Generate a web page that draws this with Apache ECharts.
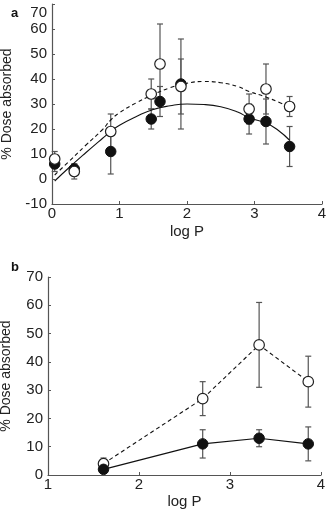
<!DOCTYPE html>
<html>
<head>
<meta charset="utf-8">
<script src="https://cdn.jsdelivr.net/npm/echarts@6/dist/echarts.min.js"></script>
<style>
html,body{margin:0;padding:0;background:#fff;}
#c{width:327px;height:517px;}
</style>
</head>
<body>
<div id="c"></div>
<script>
// Panel a
var xA = [0.04, 0.33, 0.87, 1.47, 1.60, 1.91, 2.92, 3.17, 3.52];
var openA = [8, 3, 19, 34, 46, 37, 28, 36, 29];
var openErrA = [3, 3, 7, 6, 16, 11, 6, 10, 4];
var filledA = [6, 4, 11, 24, 31, 38, 24, 23, 13];
var filledErrA = [3, 2, 9, 4, 6, 18, 6, 9, 8];
// fitted curves
var fitX = [0.04, 0.25, 0.5, 0.75, 0.87, 1.0, 1.25, 1.5, 1.75, 2.0, 2.25, 2.5, 2.75, 2.92, 3.17, 3.35, 3.52];
var dashedFit = [1.6, 7, 13.5, 19.8, 23.6, 26.5, 30.5, 33.8, 36.5, 38.3, 39, 38.5, 37, 35, 32.8, 30.8, 28.8];
var solidFit = [-0.8, 4.5, 10.5, 16.3, 19, 21.5, 25, 27.8, 29.3, 30, 29.8, 28.9, 26.8, 24.5, 22.4, 19.5, 15.5];
// Panel b
var xB = [1.61, 2.70, 3.32, 3.86];
var openB = [4, 27, 46, 33];
var openErrB = [2, 6, 15, 9];
var filledB = [2, 11, 13, 11];
var filledErrB = [1, 5, 3, 6];

var yTicksA = [-10, 70, 10];
var yTicksB = [0, 70, 10];

function pairs(xs, ys) { return xs.map(function (x, i) { return [x, ys[i]]; }); }
function errData(xs, ys, es) { return xs.map(function (x, i) { return [x, ys[i] - es[i], ys[i] + es[i]]; }); }

function errSeries(xi, yi, data) {
  return {
    type: 'custom', xAxisIndex: xi, yAxisIndex: yi, z: 1, silent: true,
    data: data,
    renderItem: function (params, api) {
      var x = api.value(0);
      var lo = api.coord([x, api.value(1)]);
      var hi = api.coord([x, api.value(2)]);
      var w = 3;
      var st = { stroke: '#555', lineWidth: 1.2 };
      return {
        type: 'group', children: [
          { type: 'line', shape: { x1: lo[0], y1: lo[1], x2: hi[0], y2: hi[1] }, style: st },
          { type: 'line', shape: { x1: lo[0] - w, y1: lo[1], x2: lo[0] + w, y2: lo[1] }, style: st },
          { type: 'line', shape: { x1: hi[0] - w, y1: hi[1], x2: hi[0] + w, y2: hi[1] }, style: st }
        ]
      };
    }
  };
}

function scatter(xi, yi, data, filled, z) {
  return {
    type: 'scatter', xAxisIndex: xi, yAxisIndex: yi, z: z, silent: true,
    symbol: 'circle', symbolSize: 10.5,
    itemStyle: filled ? { color: '#111', borderColor: '#111', borderWidth: 1, opacity: 1 } : { color: '#fff', borderColor: '#222', borderWidth: 1.2, opacity: 1 },
    data: data
  };
}

function lineSeries(xi, yi, data, dashed, smooth) {
  return {
    type: 'line', xAxisIndex: xi, yAxisIndex: yi, z: 2, silent: true,
    showSymbol: false, symbol: 'none', smooth: smooth,
    lineStyle: { color: '#111', width: 1.1, type: dashed ? [4, 3] : 'solid' },
    data: data
  };
}

var FONT = 'Liberation Sans, Arial, sans-serif';
var axisCommon = {
  splitLine: { show: false },
  axisLine: { show: true, onZero: false, lineStyle: { color: '#555', width: 1.2 } },
  axisTick: { show: true, inside: true, length: 3, lineStyle: { color: '#555' } },
  axisLabel: { color: '#222', fontSize: 15, fontFamily: FONT },
  nameTextStyle: { color: '#222', fontSize: 15, fontFamily: FONT }
};
function ax(extra) { return Object.assign({}, JSON.parse(JSON.stringify(axisCommon)), extra); }

var option = {
  animation: false,
  backgroundColor: '#fff',
  title: [
    { text: 'a', left: 6, top: 2, textStyle: { fontSize: 13, fontWeight: 'bold', color: '#111', fontFamily: FONT } },
    { text: 'b', left: 6, top: 256, textStyle: { fontSize: 13, fontWeight: 'bold', color: '#111', fontFamily: FONT } }
  ],
  grid: [
    { left: 52, right: 5, top: 4, bottom: 313, containLabel: false, outerBoundsMode: 'none' },
    { left: 48, right: 6, top: 277, bottom: 42, containLabel: false, outerBoundsMode: 'none' }
  ],
  xAxis: [
    ax({ gridIndex: 0, type: 'value', min: 0, max: 4, interval: 1, name: 'log P', nameLocation: 'middle', nameGap: 20, axisLabel: Object.assign({}, axisCommon.axisLabel, { margin: 2 }) }),
    ax({ gridIndex: 1, type: 'value', min: 1, max: 4, interval: 1, name: 'log P', nameLocation: 'middle', nameGap: 19, axisLabel: Object.assign({}, axisCommon.axisLabel, { margin: 2 }) })
  ],
  yAxis: [
    ax({ gridIndex: 0, type: 'value', min: yTicksA[0], max: yTicksA[1], interval: yTicksA[2], name: '% Dose absorbed', nameLocation: 'middle', nameGap: 37, nameTextStyle: { color: '#222', fontSize: 14, fontFamily: FONT },
      axisLabel: Object.assign({}, axisCommon.axisLabel, {
        margin: 5,
        formatter: function (v) { return v === yTicksA[1] ? '{top|' + v + '}' : String(v); },
        rich: { top: { fontSize: 15, fontFamily: FONT, color: '#222', padding: [18, 0, 0, 0] } }
      }) }),
    ax({ gridIndex: 1, type: 'value', min: yTicksB[0], max: yTicksB[1], interval: yTicksB[2], name: '% Dose absorbed', nameLocation: 'middle', nameGap: 35, nameTextStyle: { color: '#222', fontSize: 14, fontFamily: FONT }, axisLabel: Object.assign({}, axisCommon.axisLabel, { margin: 5 }) })
  ],
  series: [
    lineSeries(0, 0, pairs(fitX, dashedFit), true, true),
    lineSeries(0, 0, pairs(fitX, solidFit), false, true),
    errSeries(0, 0, errData(xA, filledA, filledErrA)),
    errSeries(0, 0, errData(xA, openA, openErrA)),
    scatter(0, 0, pairs(xA, filledA), true, 4),
    scatter(0, 0, pairs(xA, openA), false, 5),

    lineSeries(1, 1, pairs(xB, openB), true, false),
    lineSeries(1, 1, pairs(xB, filledB), false, false),
    errSeries(1, 1, errData(xB, openB, openErrB)),
    errSeries(1, 1, errData(xB, filledB, filledErrB)),
    scatter(1, 1, pairs(xB, openB), false, 4),
    scatter(1, 1, pairs(xB, filledB), true, 5)
  ]
};

var chart = echarts.init(document.getElementById('c'), null, { renderer: 'canvas' });
chart.setOption(option);
</script>
</body>
</html>
